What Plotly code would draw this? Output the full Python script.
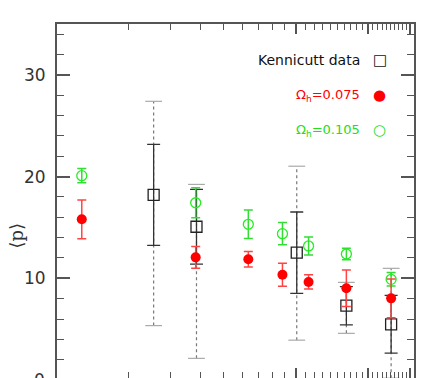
import plotly.graph_objects as go

# ----------------------------------------------------------
# Data
# ----------------------------------------------------------

# Kennicutt data (open squares)
kenn_x = [2.54, 3.84, 10.1, 16.3, 25.1]
kenn_y = [18.2, 15.07, 12.52, 7.31, 5.48]
kenn_err = [4.97, 3.68, 4.0, 1.88, 2.84]           # solid bars
kenn_dot_up = [9.2, 4.16, 8.5, 2.29, 5.5]           # dotted bars, upper
kenn_dot_down = [12.85, 12.94, 8.6, 2.72, 5.3]      # dotted bars, lower

# models share the same x positions
model_x = [1.27, 3.81, 6.33, 8.80, 11.32, 16.3, 25.1]

# Omega_h = 0.075 (filled red)
red_y = [15.8, 12.06, 11.87, 10.35, 9.64, 9.02, 8.03]
red_err = [1.9, 1.06, 0.77, 1.12, 0.7, 1.8, 1.9]

# Omega_h = 0.105 (open green)
green_y = [20.09, 17.43, 15.31, 14.39, 13.18, 12.39, 9.9]
green_err = [0.7, 1.47, 1.4, 1.1, 0.88, 0.57, 0.66]

# axis ticks
x_major = [10, 20, 30]
x_minor = [2, 3, 4, 5, 6, 7, 8, 9] + list(range(11, 20)) + list(range(21, 30)) + [31]
y_major = [10, 20, 30]
y_minor = [2, 4, 6, 8, 12, 14, 16, 18, 22, 24, 26, 28, 32, 34]
y_range = [0.2, 35]

# page body has an 8px margin, so the figure is drawn 8px in
W, H = 431, 370
ML, MR, MT, MB = 49, 24.5, 16, 0

fig = go.Figure()

# dotted (outer) Kennicutt bars, built as line segments
dx, dy = [], []
for x, y, up, dn in zip(kenn_x, kenn_y, kenn_dot_up, kenn_dot_down):
    dx += [x, x, None]
    dy += [y - dn, y + up, None]
fig.add_trace(go.Scatter(
    x=dx, y=dy, mode='lines',
    line=dict(color='#777777', width=1.2, dash='dot'),
    showlegend=False, hoverinfo='skip'
))
# their caps
cap_x = kenn_x + kenn_x
cap_y = [y + u for y, u in zip(kenn_y, kenn_dot_up)] + \
        [y - d for y, d in zip(kenn_y, kenn_dot_down)]
fig.add_trace(go.Scatter(
    x=cap_x, y=cap_y, mode='markers',
    marker=dict(symbol='line-ew', size=12, line=dict(color='#aaaaaa', width=1.2)),
    showlegend=False, hoverinfo='skip'
))

# Kennicutt squares with solid bars
fig.add_trace(go.Scatter(
    x=kenn_x, y=kenn_y, mode='markers', name='Kennicutt data',
    marker=dict(symbol='square-open', size=11, color='#222222',
                line=dict(width=1.3)),
    error_y=dict(type='data', array=kenn_err, color='#333333',
                 thickness=1.3, width=6.5),
))

# green model
fig.add_trace(go.Scatter(
    x=model_x, y=green_y, mode='markers', name='0.105',
    marker=dict(symbol='circle-open', size=10, color='#22ee22',
                line=dict(width=1.3)),
    error_y=dict(type='data', array=green_err, color='#33dd33',
                 thickness=1.5, width=4.5),
))

# red model
fig.add_trace(go.Scatter(
    x=model_x, y=red_y, mode='markers', name='0.075',
    marker=dict(symbol='circle', size=10, color='#ff0000'),
    error_y=dict(type='data', array=red_err, color='#ff4444',
                 thickness=1.5, width=4.5),
))

# Legend (text right-aligned, symbol on the right), window pixel positions
legend_rows = [
    ('Kennicutt data', '#111111', '\u25a1', 60, 14),
    ('\u03a9<sub>h</sub>=0.075', '#ff0000', '\u25cf', 95, 13),
    ('\u03a9<sub>h</sub>=0.105', '#22dd22', '\u25cb', 130, 13),
]
for label, col, sym, py, fs in legend_rows:
    fig.add_annotation(
        x=362, y=py, xref='paper', yref='paper', text=label,
        showarrow=False, xanchor='right', yanchor='middle',
        font=dict(family='DejaVu Sans', size=fs, color=col),
    )
    fig.add_annotation(
        x=380, y=py, xref='paper', yref='paper', text=sym,
        showarrow=False, xanchor='center', yanchor='middle',
        font=dict(family='DejaVu Sans', size=15, color=col),
    )

# convert the legend pixel positions into paper coordinates
for ann in fig.layout.annotations:
    ann.x = (ann.x - 8 - ML) / (W - ML - MR)
    ann.y = 1 - (ann.y - 8 - MT) / (H - MT - MB)

# y label
fig.add_annotation(
    x=-0.112, y=14.2, xref='paper', yref='y', text='\u27e8p\u27e9',
    textangle=-90, showarrow=False, xanchor='center', yanchor='middle',
    font=dict(family='DejaVu Serif', size=18, color='#333333'),
)
# the zero label, mostly below the bottom edge of the window
fig.add_annotation(
    x=-0.027, y=(0 - y_range[0]) / (y_range[1] - y_range[0]),
    xref='paper', yref='paper', text='0', xanchor='right',
    yanchor='middle', showarrow=False,
    font=dict(family='DejaVu Sans', size=17, color='#333333'),
)

axis_style = dict(showline=True, linecolor='#555555', linewidth=1.8,
                  mirror='ticks', ticks='inside', tickcolor='#555555',
                  tickwidth=1.5, showgrid=False, zeroline=False)

fig.update_xaxes(
    type='log', range=[0, 1.4955],
    tickmode='array', tickvals=x_major, ticklen=10,
    showticklabels=False,
    minor=dict(tickmode='array', tickvals=x_minor, ticklen=6,
               ticks='inside', tickcolor='#555555', tickwidth=1.2,
               showgrid=False),
    **axis_style
)
fig.update_yaxes(
    range=y_range,
    tickmode='array', tickvals=y_major, ticklen=13,
    ticklabelstandoff=6,
    tickfont=dict(family='DejaVu Sans', size=17, color='#333333'),
    minor=dict(tickmode='array', tickvals=y_minor, ticklen=7,
               ticks='inside', tickcolor='#555555', tickwidth=1.2,
               showgrid=False),
    **axis_style
)

fig.update_layout(
    width=W, height=H,
    margin=dict(l=ML, r=MR, t=MT, b=MB),
    paper_bgcolor='white', plot_bgcolor='white',
    showlegend=False,
)

fig.write_html("out.html")
